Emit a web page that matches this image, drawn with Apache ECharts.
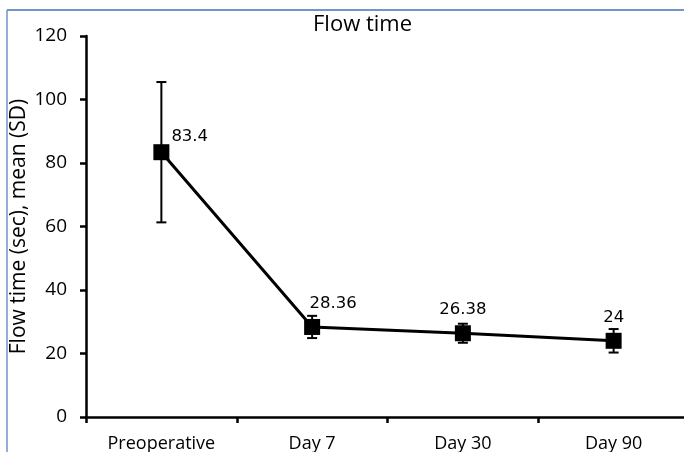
<!DOCTYPE html>
<html><head><meta charset="utf-8">
<script src="https://cdn.jsdelivr.net/npm/echarts@6/dist/echarts.min.js"></script>
<style>html,body{margin:0;padding:0;background:#fff}#c{width:684px;height:452px}</style>
</head><body><div id="c"></div>
<script>
const categories = ['Preoperative', 'Day 7', 'Day 30', 'Day 90'];
const means = [83.4, 28.36, 26.38, 24];
const sds = [22.1, 3.5, 3.0, 3.7];
const yTicks = [0, 20, 40, 60, 80, 100, 120];

const chart = echarts.init(document.getElementById('c'));
const errData = categories.map((c, i) => [i, means[i] - sds[i], means[i] + sds[i]]);
const axisFont = 'Open Sans';
const labelTweaks = [
  { position: 'right', offset: [-5, -15] },
  { offset: [21, 0] },
  null,
  null
];

chart.setOption({
  animation: false,
  backgroundColor: '#fff',
  title: {
    text: 'Flow time', left: 308, top: 9,
    textStyle: { fontFamily: axisFont, fontSize: 22, fontWeight: 'normal', color: '#000' }
  },
  grid: { left: 86, top: 36, width: 603, height: 381, containLabel: false, outerBoundsMode: 'none' },
  xAxis: {
    type: 'category', data: categories, boundaryGap: true,
    axisLine: { lineStyle: { color: '#000', width: 2.5 } },
    axisTick: { show: true, length: 6, lineStyle: { color: '#000', width: 2.5 }, alignWithLabel: false },
    axisLabel: { color: '#000', fontFamily: axisFont, fontSize: 18, margin: 18 }
  },
  yAxis: {
    type: 'value', min: 0, max: 120, interval: 20,
    name: 'Flow time (sec), mean (SD)', nameLocation: 'middle', nameGap: 56, nameMoveOverlap: false,
    nameTextStyle: { color: '#000', fontFamily: axisFont, fontSize: 21 },
    axisLine: { show: true, lineStyle: { color: '#000', width: 2.5 } },
    axisTick: { show: true, length: 6, lineStyle: { color: '#000', width: 2.5 } },
    axisLabel: { color: '#000', fontFamily: axisFont, fontSize: 19, margin: 19,
      formatter: v => yTicks.includes(v) ? String(v) : '' },
    splitLine: { show: false }
  },
  series: [
    {
      type: 'custom',
      data: errData,
      z: 3,
      renderItem: function (params, api) {
        const x = api.value(0);
        const lo = api.coord([x, api.value(1)]);
        const hi = api.coord([x, api.value(2)]);
        const w = 5;
        const style = { stroke: '#000', lineWidth: 2 };
        return {
          type: 'group',
          children: [
            { type: 'line', shape: { x1: lo[0], y1: lo[1], x2: hi[0], y2: hi[1] }, style },
            { type: 'line', shape: { x1: lo[0] - w, y1: lo[1], x2: lo[0] + w, y2: lo[1] }, style },
            { type: 'line', shape: { x1: hi[0] - w, y1: hi[1], x2: hi[0] + w, y2: hi[1] }, style }
          ]
        };
      }
    },
    {
      type: 'line',
      data: means.map((v, i) => labelTweaks[i] ? { value: v, label: labelTweaks[i] } : v),
      z: 4,
      symbol: 'rect', symbolSize: 16,
      itemStyle: { color: '#000' },
      lineStyle: { color: '#000', width: 3 },
      label: {
        show: true, position: 'top', distance: 7,
        color: '#000', fontFamily: 'DejaVu Sans', fontSize: 16.5
      }
    }
  ],
  graphic: [
    { type: 'line', shape: { x1: 7, y1: 10, x2: 684, y2: 10 }, style: { stroke: '#7393c9', lineWidth: 2 } },
    { type: 'line', shape: { x1: 7, y1: 10, x2: 7, y2: 452 }, style: { stroke: '#7393c9', lineWidth: 1.5 } }
  ]
});
</script></body></html>
